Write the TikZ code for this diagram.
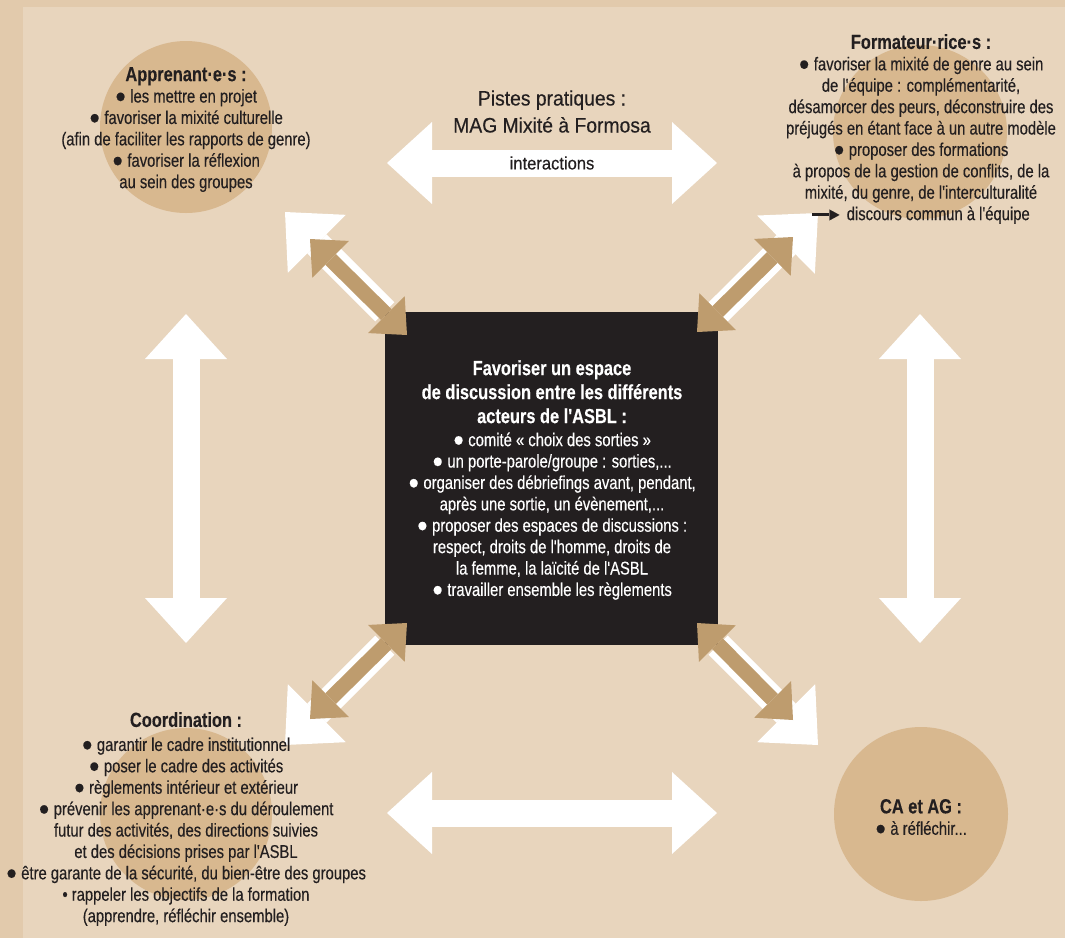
\documentclass[tikz,border=0pt]{standalone}
\usepackage{fontspec}
\setmainfont{Liberation Sans}[FakeStretch=0.92, FakeBold=0.3]
\newfontfamily\condfont{Liberation Sans}[FakeStretch=0.8, FakeBold=0.3]
\newfontfamily\headfont{Liberation Sans}[FakeStretch=0.8, FakeBold=0.2]
\usetikzlibrary{arrows.meta}

\definecolor{paper}{HTML}{E8D5BD}
\definecolor{strip}{HTML}{E2CAAC}
\definecolor{disc}{HTML}{D8B88F}
\definecolor{bronze}{HTML}{BE9C6E}
\definecolor{ink}{HTML}{231F20}

\newcommand{\hd}[1]{{\headfont\bfseries\fontsize{20.5}{24}\selectfont #1}}
\newcommand{\bul}{{\normalfont\fontsize{20}{20}\selectfont●}}
\newcommand{\leadarrow}{\rule[4.5pt]{17pt}{3pt}\kern-3pt{\normalfont\fontsize{18}{18}\selectfont ►}}

\tikzset{
  bodytext/.style={align=center, inner sep=0pt, text=ink, font=\condfont\fontsize{18.5}{21.4}\selectfont},
  actor/.style={circle, fill=disc, minimum size=#1, inner sep=0pt},
  wide/.style={white, line width=27pt, >={Triangle[length=45pt, width=82pt, line width=0pt]}},
  slim/.style={bronze, line width=15pt, >={Triangle[length=29pt, width=52pt, line width=0pt]}}
}

\begin{document}
\begin{tikzpicture}[x=1pt, y=-1pt]
    % fond
    \useasboundingbox (0,0) rectangle (1065,938);
    \fill[strip] (0,0) rectangle (1065,938);
    \fill[paper] (23,7) rectangle (1065,938);

    % les quatre acteurs
    \node[actor=172pt] (appr) at (186,127) {};
    \node[actor=174pt] (form) at (920,132) {};
    \node[actor=172pt] (coord) at (186,814) {};
    \node[actor=174pt] (caag) at (921,814) {};

    % grandes flèches blanches
    \coordinate (top-w) at (387,163);
    \coordinate (top-e) at (717,163);
    \coordinate (bot-w) at (387,813);
    \coordinate (bot-e) at (717,813);
    \coordinate (left-n) at (186,314);
    \coordinate (left-s) at (186,643);
    \coordinate (right-n) at (920,314);
    \coordinate (right-s) at (920,643);
    \draw[wide,<->] (top-w) -- (top-e);
    \draw[wide,<->] (bot-w) -- (bot-e);
    \draw[wide,<->] (left-n) -- (left-s);
    \draw[wide,<->] (right-n) -- (right-s);

    % espace central
    \node[fill=ink, minimum size=333pt, inner sep=0pt] (hub) at (551.5,478.5) {};

    % flèches diagonales
    \coordinate (nw-tip) at (285,212);
    \coordinate (ne-tip) at (818,213);
    \coordinate (sw-tip) at (285,745);
    \coordinate (se-tip) at (818,745);
    \draw[wide,->] (hub.north west) -- (nw-tip);
    \draw[wide,->] (hub.north east) -- (ne-tip);
    \draw[wide,->] (hub.south west) -- (sw-tip);
    \draw[wide,->] (hub.south east) -- (se-tip);

    \coordinate (nw-a) at (310,239);
    \coordinate (nw-b) at (407,335);
    \coordinate (ne-a) at (793,237);
    \coordinate (ne-b) at (697,332);
    \coordinate (sw-a) at (310,719);
    \coordinate (sw-b) at (407,623);
    \coordinate (se-a) at (793,720);
    \coordinate (se-b) at (697,623);
    \draw[slim,<->] (nw-a) -- (nw-b);
    \draw[slim,<->] (ne-a) -- (ne-b);
    \draw[slim,<->] (sw-a) -- (sw-b);
    \draw[slim,<->] (se-a) -- (se-b);

    % textes
    \node[bodytext, font=\normalfont\fontsize{21}{27}\selectfont] (pistes) at (552,111.5)
        {Pistes pratiques :\\ MAG Mixité à Formosa};
    \node[bodytext, font=\normalfont\fontsize{18}{21.4}\selectfont] (inter) at (552,163) {interactions};

    \node[bodytext] (appr-text) at (186,129.5)
        {\hd{Apprenant·e·s :}\\
         \bul{} les mettre en projet\\
         \bul{} favoriser la mixité culturelle\\
         (afin de faciliter les rapports de genre)\\
         \bul{} favoriser la réflexion\\
         au sein des groupes};

    \node[bodytext] (form-text) at (921,129)
        {\hd{Formateur·rice·s :}\\
         \bul{} favoriser la mixité de genre au sein\\
         de l'équipe : complémentarité,\\
         désamorcer des peurs, déconstruire des\\
         préjugés en étant face à un autre modèle\\
         \bul{} proposer des formations\\
         à propos de la gestion de conflits, de la\\
         mixité, du genre, de l'interculturalité\\
         \leadarrow\ discours commun à l'équipe};

    \node[bodytext, text=white] (hub-text) at (552,480)
        {\hd{Favoriser un espace}\\[2.6pt]
         \hd{de discussion entre les différents}\\[2.6pt]
         \hd{acteurs de l'ASBL :}\\[1.6pt]
         \bul{} comité « choix des sorties »\\
         \bul{} un porte-parole/groupe : sorties,...\\
         \bul{} organiser des débriefings avant, pendant,\\
         après une sortie, un évènement,...\\
         \bul{} proposer des espaces de discussions :\\
         respect, droits de l'homme, droits de\\
         la femme, la laïcité de l'ASBL\\
         \bul{} travailler ensemble les règlements};

    \node[bodytext] (coord-text) at (186,819)
        {\hd{Coordination :}\\[2.6pt]
         \bul{} garantir le cadre institutionnel\\
         \bul{} poser le cadre des activités\\
         \bul{} règlements intérieur et extérieur\\
         \bul{} prévenir les apprenant·e·s du déroulement\\
         futur des activités, des directions suivies\\
         et des décisions prises par l'ASBL\\
         \bul{} être garante de la sécurité, du bien-être des groupes\\
         • rappeler les objectifs de la formation\\
         (apprendre, réfléchir ensemble)};

    \node[bodytext] (caag-text) at (921,817)
        {\hd{CA et AG :}\\
         \bul{} à réfléchir...};
\end{tikzpicture}
\end{document}
